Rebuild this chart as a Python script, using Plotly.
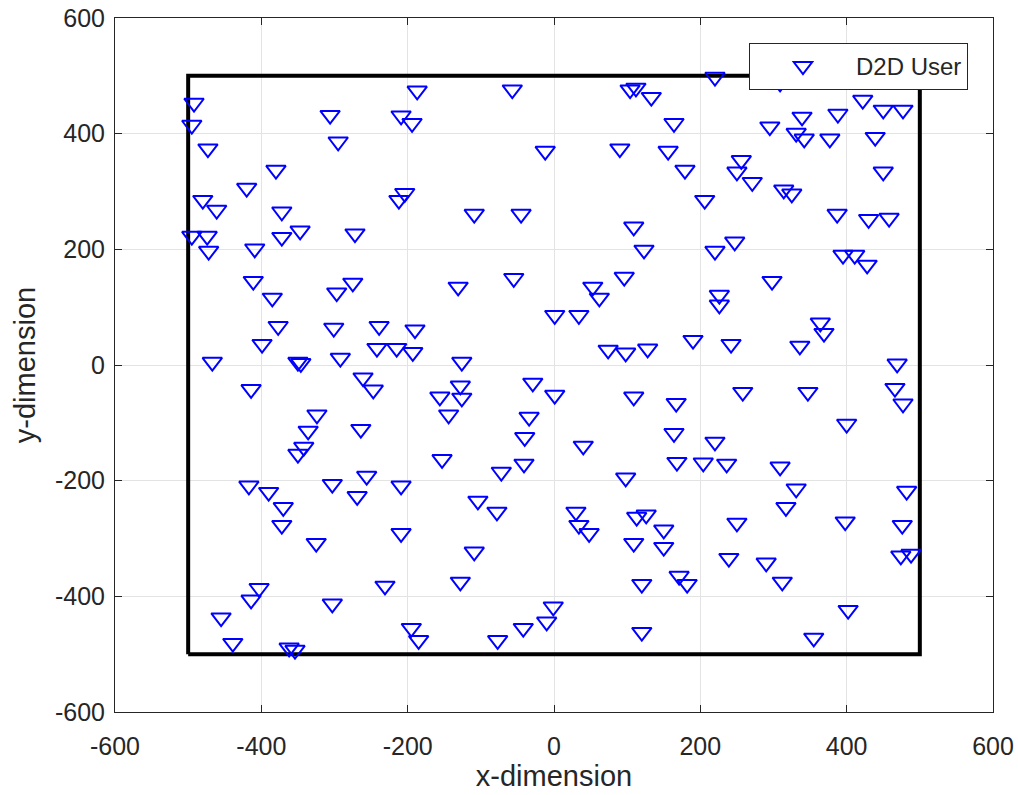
import plotly.graph_objects as go

# D2D user positions
user_x = [220, 309, -492, -187, -57, 104, 112, 133, 422, 450, 477, 388, 339, 295, 331, 342, 377, 439,
          164, 156, 179, 256, 250, 271, 206, 314, 325, 450, 387, 430, 458, 220, 247, 395, 411, 428,
          298, 226, 226, 364, 369, 190, 242, 336, 469,
          -12, 90, -109, -45, 109, 123, -131, -55, 53, 62, 96, 1, 34, 74, 98, 128, -126,
          -495, -473, -306, -295, -209, -194, -380, -420, -480, -461, -372, -204, -212, -495, -474,
          -472, -372, -347, -272, -409, -411, -385, -275, -297, -377, -301, -239, -190, -399, -242,
          -215, -193, -292, -467, -350, -346,
          -414, -261, -247, -324, -336, -342, -350, -264, -417, -390, -370, -303, -256, -269, -209,
          -128, -156, -126, -144, -29, 1, -34, -40, -41, -153, -72, -104, -78, 109, 40, 98, 167,
          164, 168, 30, 113, 126,
          466, 477, 258, 347, 400, 220, 204, 236, 309, 331, 317, 482,
          250, 398, 476, 239, 290, 312, 474, 488, 171, 182, 402, 355,
          -109, -128, 34, 48, 150, 109, 150, 120, -1, -10, -42, -77, 120,
          -372, -325, -209, -231, -303, -403, -414, -455, -439, -362, -354, -195, -185]
user_y = [498, 488, 453, 474, 476, 476, 479, 463, 458, 441, 441, 434, 429, 412, 401, 391, 391, 394,
          418, 370, 337, 354, 334, 316, 285, 303, 296, 334, 261, 252, 254, 197, 213, 190, 190, 173,
          145, 121, 104, 73, 55, 43, 36, 33, 2,
          370, 374, 261, 261, 239, 199, 135, 150, 135, 116, 152, 86, 86, 26, 21, 28, 5,
          415, 374, 432, 386, 431, 418, 337, 306, 285, 268, 265, 297, 285, 223, 223,
          197, 221, 232, 227, 201, 145, 116, 142, 125, 67, 64, 67, 61, 36, 29,
          29, 22, 12, 5, 5, 3,
          -42, -22, -43, -86, -114, -142, -154, -111, -209, -220, -246, -206, -192, -227, -209,
          -36, -55, -57, -86, -31, -52, -90, -125, -171, -163, -185, -235, -254, -55, -140, -195, -66,
          -118, -168, -254, -263, -259,
          -40, -67, -47, -47, -102, -133, -169, -171, -176, -214, -246, -218,
          -273, -271, -277, -334, -342, -375, -330, -327, -365, -379, -424, -472,
          -323, -375, -277, -291, -285, -308, -315, -379, -418, -444, -455, -476, -462,
          -277, -308, -291, -382, -413, -386, -406, -437, -481, -489, -493, -455, -476]

# Area boundary (square cell)
area_x = [-500, 500, 500, -500, -500]
area_y = [-500, -500, 500, 500, -500]

tick_vals = [-600, -400, -200, 0, 200, 400, 600]
tick_text = ["-600", "-400", "-200", "0", "200", "400", "600"]

FONT = "Liberation Sans, Arial, Helvetica, sans-serif"
TXT = "#262626"

fig = go.Figure()
fig.add_trace(go.Scatter(x=area_x, y=area_y, mode="lines",
                         line=dict(color="black", width=4), showlegend=False,
                         hoverinfo="skip"))
fig.add_trace(go.Scatter(x=user_x, y=user_y, mode="markers", name="D2D User",
                         marker=dict(symbol="triangle-down-open", size=17,
                                     color="#0000ff", line=dict(width=2, color="#0000ff"))))

axis_common = dict(range=[-600, 600], tickmode="array", tickvals=tick_vals, ticktext=tick_text,
                   showgrid=True, gridcolor="#e3e3e3", gridwidth=1, automargin=False,
                   zeroline=False, showline=True, linecolor=TXT, linewidth=1,
                   mirror="allticks", ticks="inside", ticklen=7, tickcolor=TXT,
                   tickfont=dict(family=FONT, size=25, color=TXT))

fig.update_layout(
    width=1018, height=795,
    margin=dict(l=115, r=25, t=18, b=83),
    paper_bgcolor="white", plot_bgcolor="white",
    font=dict(family=FONT, color=TXT),
    xaxis=dict(**axis_common, ticklabelstandoff=12,
               title=dict(text="x-dimension", font=dict(family=FONT, size=29, color=TXT), standoff=6)),
    yaxis=dict(**axis_common, ticklabelstandoff=4,
               title=dict(text="y-dimension", font=dict(family=FONT, size=29, color=TXT), standoff=10)),
    legend=dict(x=0.9715, y=0.964, xanchor="right", yanchor="top",
                bgcolor="white", bordercolor=TXT, borderwidth=1,
                font=dict(family=FONT, size=24, color=TXT), itemwidth=96),
    showlegend=True,
)

fig.write_html("out.html")
